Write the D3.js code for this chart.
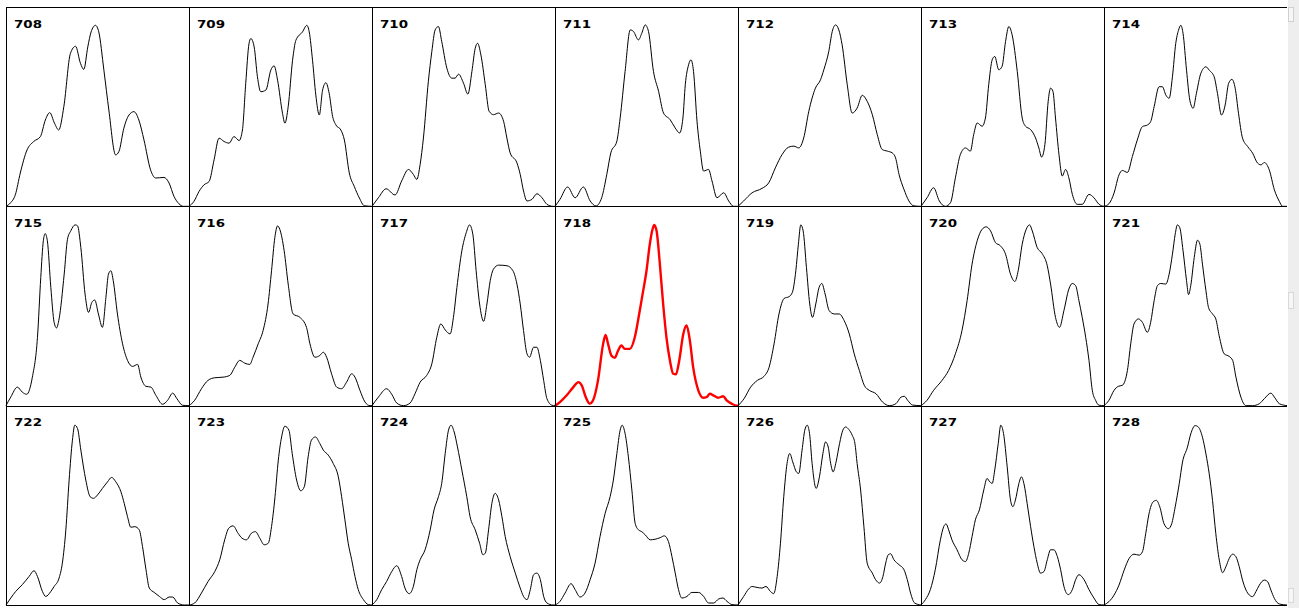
<!DOCTYPE html>
<html>
<head>
<meta charset="utf-8">
<script src="https://cdn.jsdelivr.net/npm/d3@7"></script>
<style>
  html, body { margin: 0; padding: 0; background: #ffffff; overflow: hidden; }
  svg { display: block; }
</style>
</head>
<body>
<svg id="chart" width="1299" height="608"></svg>
<script>
// Panel identifiers (read row by row) and the highlighted one
const panelIds = [708,709,710,711,712,713,714,715,716,717,718,719,720,721,722,723,724,725,726,727,728];
const highlightId = 718;

// Profiles: [position %, intensity %] pairs
const s708 = [[0,0],[2.4,1.7],[5.1,5.8],[7.8,16.7],[11.5,28.3],[15.1,32.5],[18.8,35],[21.5,43.3],[23.9,47],[26.5,41.7],[28.8,38.3],[31.6,50],[35.2,76.7],[38,80.3],[40.7,71.7],[42.5,68.7],[44.7,80],[46.5,87.5],[48.9,90.8],[50.7,87.5],[53.5,68.3],[56.2,48.3],[59.9,25.8],[61.7,27.5],[64.4,39.2],[67.2,45.8],[69.9,47.5],[72.6,43.3],[75.4,33.3],[79,18.3],[81.8,14.2],[86.3,14.5],[89.1,11.7],[91.8,5],[94.5,1.3],[96.9,0],[100,0]];
const s709 = [[0,0],[2.7,2.5],[5.5,7.5],[8.2,10.8],[11,12.5],[13.7,23.3],[16.4,34.2],[19.2,32.5],[21.9,31.7],[24.6,35],[27.4,33],[29.2,38.3],[31,61.7],[32.8,81.7],[33.8,84.2],[35.6,80],[37.4,65],[39.2,57.5],[42,58.3],[44.7,68.3],[46.5,70.5],[48.4,63.3],[51.1,46.7],[52.4,41.7],[54.2,50],[56.6,73.3],[58.4,83.3],[62,87.5],[64.4,90.8],[65.7,87.5],[67.5,73.3],[69.3,55.8],[71.2,45.8],[73,58.3],[74.8,62],[76.6,56.7],[78.5,45],[80.3,40.8],[83,38.3],[84.9,33.3],[87.6,16.7],[90.3,10],[93.1,4.2],[95.8,0.3],[100,0]];
const s710 = [[0,0],[3.5,4.3],[7.7,8.8],[12.6,5.7],[16.2,12.7],[19.9,18.5],[22.6,16],[24.5,13.5],[26.3,21],[28.1,34.3],[30.8,62.7],[32.7,77.7],[34.5,88.5],[36.3,90.2],[38.1,82.7],[40.9,69.3],[43.6,64.3],[45.4,64.3],[47.3,66.3],[50,61.8],[52.4,56.3],[54.6,67.7],[56.4,79.3],[57.7,81.8],[59.5,76],[61.9,61],[64,47.7],[66.4,46],[69.2,46.8],[71.9,42.7],[73.7,34.3],[75.5,26.8],[79.2,21.8],[81,16],[82.8,7.7],[84.7,2.7],[87.4,3.5],[90.1,6.3],[92.9,4.3],[95.6,1],[98.9,0],[100,0]];
const s711 = [[0,0],[2.7,3.5],[6.9,9.7],[11,4.3],[15.5,9.7],[19.2,2.7],[22.4,0.2],[25.5,4.3],[28.3,16],[30.5,26.8],[33.8,32.7],[35.6,44.3],[38.3,67.7],[41.1,88.5],[42.9,87.7],[45.6,83.5],[47.4,86.8],[49.3,91],[51.1,87.7],[53.8,67.7],[56.6,57.7],[59.3,46.8],[62.9,43.5],[65.7,39.3],[68.1,36.8],[69.9,44.3],[71.2,61],[73,71],[74.3,73.5],[75.7,67.7],[77.6,42.7],[79.4,27.7],[81.2,17.7],[83.9,18.5],[85.8,12.7],[88.5,4.3],[92.2,6.8],[94.9,2.7],[97.6,0],[100,0]];
const s712 = [[0,0],[3.1,2.7],[7.7,6.8],[13.1,9],[16.8,11.8],[20.4,19.3],[24.1,26],[27.7,29.7],[30.5,30.2],[33.2,29.3],[35.9,34.3],[38.7,47.7],[42.3,59.3],[45.1,63.5],[46.9,68.5],[49.6,77.7],[51.5,87.7],[53.3,91],[55.1,88.5],[56.9,81],[59.7,61],[62.4,46.8],[65.1,49.3],[67.9,55.7],[70.6,52.7],[73.4,46],[76.1,36],[78.8,28.5],[81.6,27.7],[84.3,26.8],[86.1,24.3],[88,16],[90.7,8.5],[93.4,2.7],[96.2,0.2],[100,0]];
const s713 = [[0,0],[3.3,4.3],[6.9,9.3],[10,2.7],[13.3,0],[16.1,1.8],[18.8,14.3],[21.5,26],[24.3,29.3],[27,27.7],[28.8,36],[30.7,41.8],[33.4,40.2],[35.2,44.3],[37,61],[38.9,73.5],[40.3,75.2],[42.5,68.5],[44.3,70.2],[46.2,82.7],[48,90.2],[49.8,86],[52.6,67.7],[55.3,44.3],[57.1,40.2],[59.9,38.5],[62.6,34.3],[64.4,29.3],[65.9,24.7],[67.7,31],[69.5,52.7],[70.8,59.3],[72.1,57.7],[73.5,44.3],[75.4,26],[77.2,15.2],[79,18.5],[80.8,14.3],[82.7,6],[85.4,1],[88.1,1],[91.8,6],[94.5,4.3],[97.3,1],[100,0]];
const s714 = [[0,0],[2.7,1.3],[5.5,6.7],[8.2,15.8],[10,18],[12.8,17],[15.5,25],[18.2,33.3],[21,40],[23.7,40.8],[25.5,42.5],[27.4,50],[30.1,60],[31.9,60],[33.8,55.8],[35.6,54.2],[37.4,65],[39.2,81.7],[40.7,88.3],[42,90.8],[43.2,86.7],[45.1,68.3],[46.9,53.3],[48.7,49.2],[50.5,56.7],[52.9,66.7],[55.7,70],[57.5,68.3],[60.2,65],[62,56.7],[64.2,45.8],[66.2,50.8],[68.1,61.7],[69.9,63.7],[71.7,59.2],[73.5,46.7],[75.7,34.2],[78.5,30],[81.2,26.7],[83.9,21.7],[85.8,20.8],[87.6,22],[90.3,18.3],[93.1,8.3],[95.8,2.5],[97.6,0],[100,0]];
const s715 = [[0,0],[2.6,4.3],[6.2,9.3],[8.9,6.8],[11.3,5.7],[14.4,14.3],[17.2,34.3],[19,64.3],[20.4,82.7],[21.4,86.3],[22.6,82.7],[24.5,59.3],[26.3,41.8],[27.6,39],[29,43.5],[31.8,66],[33.6,83.5],[35.4,87.7],[37.8,90.7],[39.1,90.2],[40.9,79.3],[43.2,56],[45.1,46.8],[46.9,51.8],[48.5,53],[50.5,46],[52.7,39.3],[54.6,54.3],[56,66],[57.3,67.7],[58.6,62.7],[60.9,46],[63.7,31],[66.4,22.7],[69.2,19.7],[71.9,20.7],[73.7,14.3],[76.5,9.7],[79.2,9.3],[81.9,5.2],[85.6,0.7],[88.3,2.7],[91.1,6.3],[93.4,3.5],[96.5,0.2],[100,0]];
const s716 = [[0,0],[3.1,2.7],[6.8,8.5],[10.4,12.7],[14.1,14],[18.6,14.3],[22.3,15.2],[25,19.3],[27.7,22.7],[30.5,21.3],[33.2,20.7],[35,24.3],[37.8,31],[40.5,37.7],[43.2,51],[45.1,67.7],[46.9,84.3],[48.4,90.2],[49.6,88.5],[52,77.7],[54.2,61],[56.9,46],[60.6,44.3],[64.2,39.3],[66.1,31],[68.8,24.3],[71.5,25.2],[73.4,26.8],[75.2,24.3],[77.9,16],[80.7,9.3],[83.4,8.5],[86.1,11.8],[88.9,16],[90.7,14.3],[93.4,7.7],[96.2,1.8],[98.9,0],[100,0]];
const s717 = [[0,0],[3.5,4.3],[8,8.5],[10.8,5.7],[13.5,1.3],[17.2,0],[20.8,1.3],[23.5,6],[26.3,11.8],[29.9,15.2],[32.7,21],[35.4,34.3],[37.6,41],[40,38],[42.7,36],[44.5,44.3],[46.4,59.3],[49.1,77.7],[51.5,86.8],[53.3,90.7],[55.1,86],[56.9,67.7],[58.8,51],[61,42.3],[62.8,51],[64.6,62.7],[66.4,68.5],[69.2,70.5],[73.7,70.2],[77,67.7],[79.2,61],[81,51],[82.8,37.7],[84.7,26],[86.1,24.3],[88.3,29.3],[90.1,29.3],[92,22.7],[93.8,12.7],[95.6,3.5],[98.4,0.2],[100,0]];
const s718 = [[0,0],[2.7,1.8],[6.4,5.2],[10,9.3],[12.8,11.8],[14.6,10.2],[16.8,4.3],[19,1],[20.8,2.7],[23.5,12.7],[26.3,31],[27.6,35.5],[29,31],[30.8,25.2],[32.7,24],[34.5,27.7],[36.3,30.2],[38.1,28.5],[40.9,28.5],[43.6,34.3],[46,46],[48.2,57.7],[50,67.7],[51.8,81],[53.3,88.5],[54.2,90.7],[55.5,87.7],[57.3,71],[59.1,51],[60.9,34.3],[62.8,22.7],[64.6,16],[66.1,15.7],[67.9,22.7],[70.1,36],[71.9,40.2],[73.7,32.7],[75.5,19.3],[78.3,7.7],[81,4],[82.8,4.3],[84.7,6],[86.5,5.2],[89.2,4],[91.9,4.7],[93.8,2.7],[96.5,1],[99.3,0],[100,0]];
const s719 = [[0,0],[3.3,3.5],[6.9,9.3],[10.6,12.7],[14.2,14.7],[17,19.3],[19.7,31],[22.4,46],[25.2,53.8],[27.9,54.7],[29.7,56.8],[31.6,67.7],[33,81],[34.3,90.7],[35.6,87.7],[37.4,69.3],[39.2,51],[40.7,44.3],[42.5,51],[44.3,59.3],[45.8,61.3],[47.6,56],[49.8,47.7],[52.6,46],[55.3,46],[58,42.7],[60.8,36],[63.5,26],[66.3,17.7],[69,10.2],[71.7,7.7],[75.4,6],[79,1.8],[82.7,0],[86.3,1],[89.1,4.3],[90.9,4.7],[92.7,2.7],[95.4,0.3],[100,0]];
const s720 = [[0,0],[3.3,2.7],[6.9,7.7],[11.5,12.7],[15.1,17.7],[18.8,26],[22.4,37.7],[25.2,52.7],[27.9,71],[30.7,82.7],[33.4,88.5],[35.6,89.7],[38,87.7],[40.7,81.8],[43.4,80.2],[46.2,76],[48.9,66],[51.3,62.3],[53.1,67.7],[55.3,81],[57.5,88.5],[59.3,90.7],[60.8,87.7],[63.5,79.3],[66.2,76.3],[69,70.2],[70.8,61],[73.5,44.3],[75.7,39.3],[78.1,47.7],[80.8,58.5],[82.7,61.3],[84.5,60.2],[86.3,52.7],[88.1,44.3],[90,34.3],[91.8,22.7],[93.6,7.7],[95.4,2.7],[97.3,0.2],[100,0]];
const s721 = [[0,0],[2.7,2.7],[5.5,7.7],[7.8,9.7],[10,10.2],[12.8,17.7],[14.6,31],[16.4,41],[18.8,43.5],[21,41.8],[23.7,36.8],[25.5,41.8],[27.4,52.7],[29.2,60.2],[31,61.3],[33.8,61],[35.6,66],[37.4,76],[38.9,86],[40.1,90.7],[41.4,89.3],[43.2,77.7],[45.1,62.7],[46.2,55.7],[47.4,60.2],[49.3,74.3],[51.1,83],[52.4,81],[53.8,71],[55.7,57.7],[57.1,49.3],[59.3,46],[61.1,43.5],[62.9,35.2],[65.7,26],[68.4,24.7],[70.3,22.7],[72.1,14.3],[74.8,4.3],[77.6,0],[81.2,0],[84.9,1],[87.6,3.5],[91.2,6.3],[93.1,4.3],[95.8,1],[100,0]];
const s722 = [[0,0],[2.6,3.5],[5.3,6.8],[8.9,10.2],[12.6,14.3],[15.3,17.2],[17.2,14.3],[19.9,6.8],[21.7,4.3],[24.5,6.8],[26.3,9.3],[29,13.5],[30.8,21],[32.7,37.7],[34.5,62.7],[36.3,82.7],[37.6,90.2],[39.1,88.5],[40.9,77.7],[43.6,62.7],[46,54.3],[47.8,53.5],[50,55.2],[52.7,58.5],[55.5,61.8],[57.7,64],[60,61.8],[62.8,56.8],[64.6,51],[66.4,44.3],[68.2,39],[70.4,39.3],[72.8,37.7],[74.6,29.3],[76.5,17.7],[78.3,8.5],[81,6.3],[83.8,4.3],[86.5,2.7],[89.2,4],[91.1,4],[93.8,1],[97.4,0],[100,0]];
const s723 = [[0,0],[3.1,1],[6.8,6],[10.4,11.8],[14.1,16.8],[16.8,22.7],[19.5,32.7],[21.7,38.5],[24.1,39.7],[26.8,36],[29,33.5],[31.4,32.7],[34.1,36],[36.3,36.8],[38.7,33.5],[41.1,30.2],[43.3,31],[45.1,39.3],[47,54.3],[48.8,72.7],[50.6,84.3],[52.4,89.7],[54.6,87.7],[56.4,76],[58.8,62.7],[61.1,57.3],[63,59.3],[65.1,74.3],[66.9,82.7],[69.1,84.3],[71.5,81],[73.4,77.7],[76.1,75.2],[78.8,71],[81.6,64.3],[83.4,54.3],[85.2,42.7],[87,31],[88.9,22.7],[90.7,14.3],[92.5,7.7],[95.3,2.7],[98,0.2],[100,0]];
const s724 = [[0,0],[2.6,2.7],[5.3,7.7],[8,11.8],[10.8,16.8],[13.5,19.7],[16.2,14.3],[18,8.5],[20.4,5.7],[22.6,9.3],[24.5,17.7],[26.3,22.7],[29,27.7],[31.8,37.7],[33.9,47.7],[36.3,54.3],[38.1,61],[40,76],[41.8,87.7],[43.2,90.2],[44.9,86.8],[46.7,79.3],[49.1,67.7],[51.8,54.3],[53.6,44.3],[56.4,37.7],[58.8,31],[60.6,25.2],[61.9,26],[63.7,37.7],[65.5,51],[67.3,56],[69.2,52.7],[71,44.3],[72.8,34.3],[75.5,24.3],[78.3,16],[81,8.5],[82.8,4.3],[84.7,2.7],[86.5,7.7],[88.3,15.2],[90.1,16],[92,12.7],[93.8,4.3],[95.6,1],[98.9,0],[100,0]];
const s725 = [[0,0],[2.7,1.8],[5.5,6],[8.8,10.7],[11,7.7],[13.7,4],[16.4,6],[19.2,12.7],[21.9,21],[24.6,34.3],[27.4,46],[30.1,54.3],[31.9,62.7],[33.8,76],[35.6,87.7],[36.7,90.2],[38.3,86],[40.1,74.3],[42,57.7],[43.8,41],[45.6,37.7],[47.4,36.8],[49.3,35.2],[52,32.7],[54.7,33],[57.5,33.8],[59.7,34.7],[62,31.8],[63.9,24.3],[65.7,16],[67.5,7.7],[69.3,3.5],[72.1,4.3],[74.8,6.3],[78.5,6.3],[81.2,4.3],[83.9,1],[86.7,1],[89.4,3],[91.8,3.5],[94,1.8],[96.7,0.2],[100,0]];
const s726 = [[0,0],[3.1,4.3],[5.8,8],[7.7,9.3],[10.4,8.8],[13.1,8.5],[15.3,9.3],[17.7,6.8],[19.5,5.7],[21.4,14.3],[23.2,31],[25,54.3],[26.8,71],[28.3,76],[29.9,71.8],[31.9,66.8],[33.2,66],[35,77.7],[36.5,87.7],[37.8,90.2],[39.1,86],[40.5,71],[42.7,58.5],[44.5,64.3],[46.4,76],[47.8,81.8],[49.3,79.3],[50.5,71.8],[52,66.8],[53.6,71.8],[55.5,81],[57.3,87.7],[58.8,89.3],[60.6,88],[62.4,85.2],[63.9,81],[65.1,71],[67,57.7],[68.8,39.3],[70.6,21],[73.4,16],[75.2,12.7],[77.4,11],[79.2,14.3],[80.7,21],[82.1,25.2],[83.4,25.7],[85.2,22.7],[88,20.2],[90.7,17.7],[92.5,12.7],[94.3,6],[96.5,1],[100,0]];
const s727 = [[0,0],[2.4,2.7],[5.1,7.7],[7.8,17.7],[10.6,32.7],[12.4,39.3],[13.7,40.7],[15.1,37.7],[16.9,32.7],[19.7,27.7],[22.4,22.7],[24.3,21.8],[26.1,26],[27.9,34.3],[29.7,42.7],[31.9,47.7],[34.3,57.7],[36.1,63.5],[37.6,61.8],[38.9,61],[40.3,67.7],[42.2,81],[43.6,90.2],[45.1,86],[47.1,69.3],[48.9,52.7],[50.2,49.3],[51.6,52.7],[53.5,61],[54.9,64.3],[56.4,60.2],[58,51],[59.9,39.3],[61.7,29.3],[63.5,21],[65.3,16],[67.2,16.8],[69,22.7],[70.8,27.7],[72.6,27.7],[74.5,24.3],[76.3,17.7],[78.1,9.3],[80.5,5.2],[82.7,7.7],[84.5,12.7],[86.3,15.2],[89.1,12.7],[91.8,7.7],[94.5,3.5],[97.3,0.2],[100,0]];
const s728 = [[0,0],[2.7,1.7],[5.5,5],[8.2,10],[11,17.5],[13.7,23.3],[16.4,25.5],[19.2,25],[21,26.7],[22.8,35.8],[24.6,45.8],[26.8,51.7],[28.6,52.5],[30.5,49.2],[32.8,40.8],[35.2,38.3],[37,40.8],[38.9,49.2],[41.1,60.8],[42.9,71.7],[45.6,79.2],[47.4,85.8],[49.8,90],[51.6,89.2],[53.8,84.2],[55.7,75.8],[57.5,65.8],[59.3,52.5],[61.1,35.8],[63,22.5],[64.8,16.2],[66.6,19.2],[68.4,23.3],[70.3,25.5],[72.1,24.2],[73.9,19.2],[75.7,12.5],[77.6,7.5],[79.4,5],[81.2,4.2],[83,6.7],[84.9,10],[87.6,12.5],[89.4,11.7],[91.2,7.5],[93.1,3.3],[95.8,0.5],[100,0]];

const profiles = [s708,s709,s710,s711,s712,s713,s714,s715,s716,s717,s718,s719,s720,s721,s722,s723,s724,s725,s726,s727,s728];

const nCols = 7, nRows = 3;
const svg = d3.select("#chart");

// grid scales
const colX = d3.scaleLinear().domain([0, nCols]).range([6, 1287]);
const rowY = d3.scaleLinear().domain([0, nRows]).range([7, 605]);

// scrollbar-like strip at the right
const strip = svg.append("g");
strip.append("rect").attr("x", 1288).attr("y", 0).attr("width", 11).attr("height", 608).attr("fill", "#eeeeee");
strip.append("rect").attr("x", 1288.5).attr("y", 7.5).attr("width", 5).attr("height", 14).attr("fill", "#f6f6f6").attr("stroke", "#d0d0d0");
strip.append("rect").attr("x", 1288.5).attr("y", 292.5).attr("width", 5).attr("height", 16).attr("fill", "#f6f6f6").attr("stroke", "#d8d8d8");
strip.append("rect").attr("x", 1288.5).attr("y", 588.5).attr("width", 5).attr("height", 14).attr("fill", "#f6f6f6").attr("stroke", "#d8d8d8");

panelIds.forEach((id, i) => {
  const c = i % nCols, r = Math.floor(i / nCols);
  const x0 = colX(c), x1 = colX(c + 1);
  const y0 = rowY(r), y1 = rowY(r + 1);
  const x = d3.scaleLinear().domain([0, 100]).range([x0, x1]);
  const y = d3.scaleLinear().domain([0, 100]).range([y1, y0]);
  const g = svg.append("g");
  const line = d3.line().x(d => x(d[0])).y(d => y(d[1])).curve(d3.curveMonotoneX);
  const hl = id === highlightId;
  g.append("path")
    .attr("d", line(profiles[i]))
    .attr("fill", "none")
    .attr("stroke", hl ? "#ff0000" : "#000000")
    .attr("stroke-width", hl ? 2.4 : 1)
    .attr("stroke-linejoin", "round");
  g.append("text")
    .attr("x", x0 + 8)
    .attr("y", y0 + 20.5)
    .attr("font-family", "'DejaVu Sans', Verdana, sans-serif")
    .attr("font-weight", "bold")
    .attr("font-size", 10.5)
    .attr("textLength", 28)
    .attr("lengthAdjust", "spacingAndGlyphs")
    .attr("fill", "#000")
    .text(id);
});

// grid lines
const grid = svg.append("g").attr("stroke", "#000").attr("stroke-width", 1).attr("shape-rendering", "crispEdges");
d3.range(nRows + 1).forEach(r => {
  const yy = Math.round(rowY(r)) + 0.5;
  grid.append("line").attr("x1", 6).attr("x2", 1287).attr("y1", yy).attr("y2", yy);
});
d3.range(nCols).forEach(c => {
  const xx = Math.round(colX(c)) + 0.5;
  grid.append("line").attr("x1", xx).attr("x2", xx).attr("y1", 7).attr("y2", 606);
});
</script>
</body>
</html>
